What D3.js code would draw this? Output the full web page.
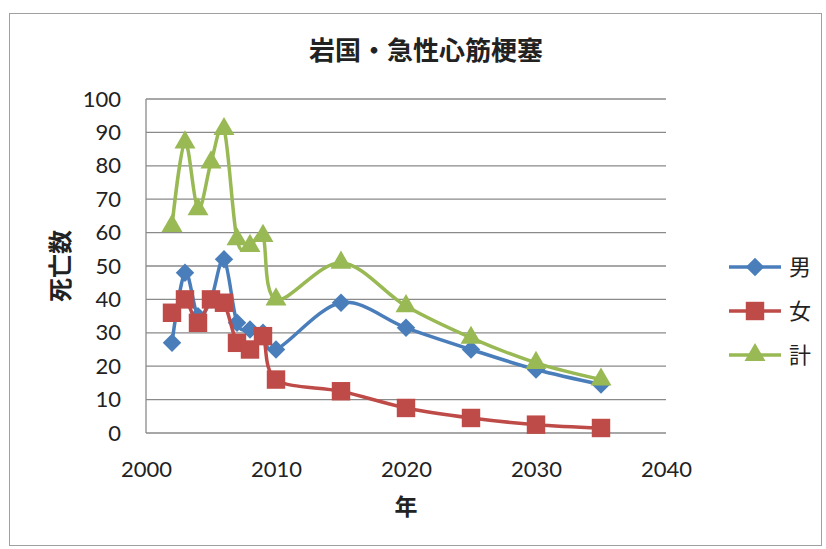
<!DOCTYPE html>
<html><head><meta charset="utf-8">
<script src="https://cdn.jsdelivr.net/npm/d3@7"></script>
<style>body{margin:0;background:#fff}</style>
</head><body>
<svg id="c" width="826" height="549"></svg>
<script>
const years = [2002,2003,2004,2005,2006,2007,2008,2009,2010,2015,2020,2025,2030,2035];
const male  = [27,48,35,40,52,33,31,30,25,39,31.5,25,19,14.5];
const female= [36,40,33,40,39,27,25,29,16,12.5,7.5,4.5,2.5,1.5];
const total = [62,87,67,81,91,58,56,59,40,51,38,28.5,21,16];
const seriesNames = ["男","女","計"];
const xTicks = [2000,2010,2020,2030,2040];
const yTicks = [0,10,20,30,40,50,60,70,80,90,100];
const colors = ["#4A7EBB","#BE4B48","#98B954"];
const symbols = [d3.symbolSquare, d3.symbolSquare, d3.symbolTriangle];
const symRot = [45, 0, 0];
const symSizes = [170, 340, 190];

const svg = d3.select("#c");
const font = "Lato, 'Noto Sans CJK JP', sans-serif";
const cjk = "'Noto Sans CJK JP', sans-serif";
svg.append("rect").attr("x",9.5).attr("y",13.5).attr("width",812).attr("height",532)
  .attr("fill","#fff").attr("stroke","#a0a0a0").attr("stroke-width",1);

const x = d3.scaleLinear().domain([2000,2040]).range([146,666]);
const y = d3.scaleLinear().domain([0,100]).range([433,99]);

svg.append("g").selectAll("line").data(yTicks).join("line")
  .attr("x1",146).attr("x2",666).attr("y1",d=>y(d)).attr("y2",d=>y(d))
  .attr("stroke","#8a8a8a").attr("stroke-width",1.3);
svg.append("line").attr("x1",146).attr("x2",146).attr("y1",99).attr("y2",433)
  .attr("stroke","#8a8a8a").attr("stroke-width",1.3);

const yAxis = d3.axisLeft(y).tickValues(yTicks).tickSize(0).tickPadding(25);
const gy = svg.append("g").attr("transform","translate(146,0)").call(yAxis);
gy.select(".domain").remove();
gy.selectAll("text").attr("font-family",font).attr("font-size",22).attr("fill","#222");

const xAxis = d3.axisBottom(x).tickValues(xTicks).tickSize(0).tickPadding(28).tickFormat(d3.format("d"));
const gx = svg.append("g").attr("transform","translate(0,433)").call(xAxis);
gx.select(".domain").remove();
gx.selectAll("text").attr("font-family",font).attr("font-size",22).attr("fill","#222");

svg.append("text").attr("x",426).attr("y",60).attr("text-anchor","middle")
  .attr("font-family",cjk).attr("font-weight","bold")
  .attr("font-size",26).attr("fill","#222").text("岩国・急性心筋梗塞");
svg.append("text").attr("x",406).attr("y",515).attr("text-anchor","middle")
  .attr("font-family",cjk).attr("font-weight","bold")
  .attr("font-size",23).attr("fill","#222").text("年");
svg.append("text").attr("transform","translate(69,266) rotate(-90)").attr("text-anchor","middle")
  .attr("font-family",cjk).attr("font-weight","bold")
  .attr("font-size",24).attr("fill","#222").text("死亡数");

const data = [male,female,total];
const line = d3.line().x(d=>x(d[0])).y(d=>y(d[1])).curve(d3.curveCardinal.tension(0));
data.forEach((vals,i)=>{
  const pts = years.map((yr,j)=>[yr,vals[j]]);
  const g = svg.append("g");
  g.append("path").attr("d",line(pts)).attr("fill","none").attr("stroke",colors[i])
    .attr("stroke-width",3.5).attr("stroke-linejoin","round");
  g.selectAll("path.m").data(pts).join("path").attr("class","m")
    .attr("transform",d=>`translate(${x(d[0])},${y(d[1])}) rotate(${symRot[i]})`)
    .attr("d",d3.symbol().type(symbols[i]).size(symSizes[i])).attr("fill",colors[i]);
});

const ly = [267,311,355];
seriesNames.forEach((n,i)=>{
  const g = svg.append("g").attr("transform",`translate(0,${ly[i]})`);
  g.append("line").attr("x1",729).attr("x2",781).attr("stroke",colors[i]).attr("stroke-width",3.5);
  g.append("path").attr("transform",`translate(755,0) rotate(${symRot[i]})`)
    .attr("d",d3.symbol().type(symbols[i]).size(symSizes[i])).attr("fill",colors[i]);
  g.append("text").attr("x",789).attr("y",8).attr("font-family",cjk)
    .attr("font-size",22).attr("fill","#222").text(n);
});
</script>
</body></html>
